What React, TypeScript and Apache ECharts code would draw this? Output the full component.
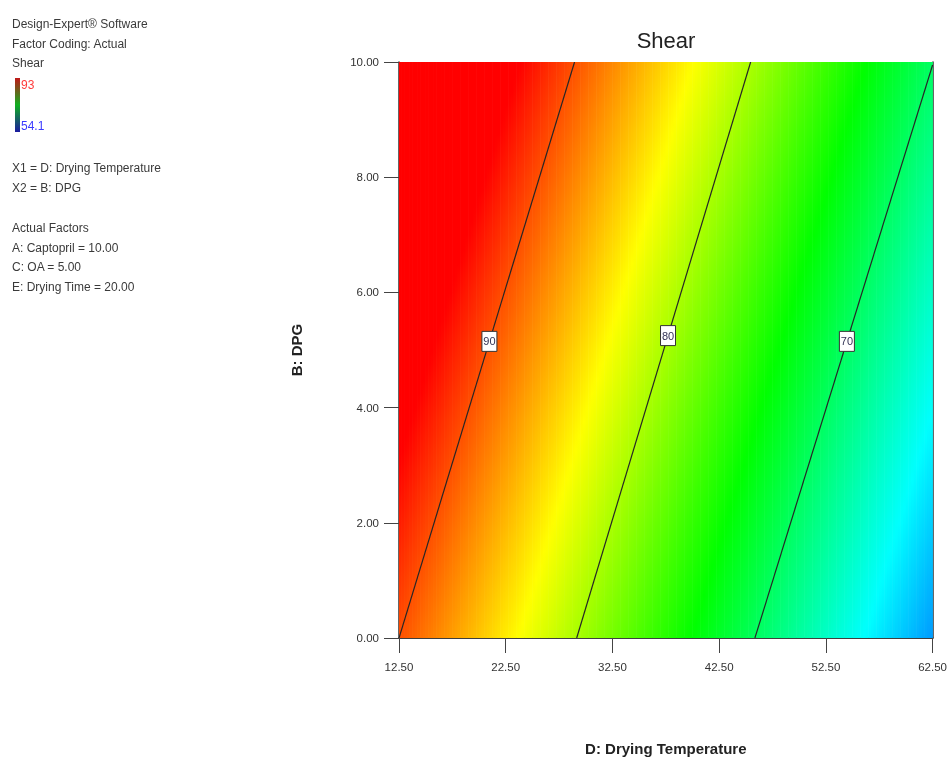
import React, { useEffect, useRef } from "react";
import * as echarts from "echarts";

// ---- data ----
const dRange = [12.5, 62.5]; // D: Drying Temperature
const bRange = [0, 10]; // B: DPG
const dTicks = [12.5, 22.5, 32.5, 42.5, 52.5, 62.5];
const bTicks = [0, 2, 4, 6, 8, 10];
const shearModel = [97.5, -0.6, 0.985];
const colorRange = [54.1, 93];
const colorStops = ["#0000ff", "#00ffff", "#00ff00", "#ffff00", "#ff0000"];
const legendBarStops = ["#1a1aa0", "#10b020", "#c01818"];
const contourLevels = [90, 80, 70];
const contourLines = [
  [[12.5, 0], [28.95, 10]],
  [[29.15, 0], [45.45, 10]],
  [[45.85, 0], [62.5, 9.95]],
];
const contourLabelB = [5.15, 5.25, 5.15];
const infoLines = ["Design-Expert® Software", "Factor Coding: Actual", "Shear"];
const factorLines = ["X1 = D: Drying Temperature", "X2 = B: DPG"];
const actualLines = [
  "Actual Factors",
  "A: Captopril = 10.00",
  "C: OA = 5.00",
  "E: Drying Time = 20.00",
];

const STEP_D = 0.25;
const N_B_STOPS = 40;

const NARROW = "'Liberation Sans Narrow', 'Arial Narrow', 'Liberation Sans', Arial, sans-serif";
const SANS = "'Liberation Sans', Arial, sans-serif";

function shear(d: number, b: number) {
  return shearModel[0] + shearModel[1] * d + shearModel[2] * b;
}

function colorOf(v: number) {
  let t = (v - colorRange[0]) / (colorRange[1] - colorRange[0]);
  t = Math.max(0, Math.min(1, t));
  return echarts.color.lerp(t, colorStops) as string;
}

function buildColumns() {
  const cols: number[][] = [];
  const nD = Math.round((dRange[1] - dRange[0]) / STEP_D);
  for (let i = 0; i < nD; i++) {
    const d = dRange[0] + (i + 0.5) * STEP_D;
    const bMid = (bRange[0] + bRange[1]) / 2;
    cols.push([d, bMid, shear(d, bMid)]);
  }
  return cols;
}

export default function App() {
  const ref = useRef<HTMLDivElement>(null);
  useEffect(() => {
    const chart = echarts.init(ref.current!, null, { renderer: "svg" });
    const columns = buildColumns();

    const textEl = (text: string, x: number, y: number, fill = "#3a3a3a", size = 12, font = NARROW) => ({
      type: "text",
      x,
      y,
      silent: true,
      style: { text, fill, fontSize: size, fontFamily: font, verticalAlign: "middle", align: "left" },
    });

    const graphic: any[] = [];
    infoLines.forEach((t, i) => graphic.push(textEl(t, 12, 24 + i * 19.5)));
    graphic.push({
      type: "rect",
      silent: true,
      shape: { x: 15, y: 78, width: 5, height: 54 },
      style: {
        fill: new echarts.graphic.LinearGradient(
          0,
          1,
          0,
          0,
          legendBarStops.map((c, i) => ({ offset: i / (legendBarStops.length - 1), color: c }))
        ),
      },
    });
    graphic.push(textEl(String(colorRange[1]), 21, 85, "#ff3a3a"));
    graphic.push(textEl(String(colorRange[0]), 21, 126, "#3a3aff"));
    factorLines.forEach((t, i) => graphic.push(textEl(t, 12, 168 + i * 20)));
    actualLines.forEach((t, i) => graphic.push(textEl(t, 12, 228 + i * 19.7)));
    graphic.push({
      type: "text",
      x: 666,
      y: 40,
      silent: true,
      style: { text: "Shear", fill: "#222", fontSize: 22, fontFamily: SANS, align: "center", verticalAlign: "middle" },
    });

    const axisCommon = {
      type: "value",
      axisLine: { show: true, lineStyle: { color: "#333", width: 1.5 } },
      splitLine: { show: false },
    };

    chart.setOption({
      animation: false,
      grid: { left: 399, right: 16, top: 62, bottom: 124 },
      graphic,
      xAxis: [
        {
          ...axisCommon,
          min: dRange[0],
          max: dRange[1],
          position: "bottom",
          name: "D: Drying Temperature",
          nameLocation: "middle",
          nameGap: 103,
          nameTextStyle: { fontSize: 15, fontWeight: "bold", color: "#222", fontFamily: SANS },
          axisTick: { show: true, length: 15, customValues: dTicks, lineStyle: { color: "#444" } },
          axisLabel: {
            customValues: dTicks,
            margin: 23,
            fontSize: 11.5,
            color: "#333",
            fontFamily: NARROW,
            formatter: (v: number) => v.toFixed(2),
          },
        },
        {
          ...axisCommon,
          min: dRange[0],
          max: dRange[1],
          position: "top",
          axisTick: { show: false },
          axisLabel: { show: false },
        },
      ],
      yAxis: [
        {
          ...axisCommon,
          min: bRange[0],
          max: bRange[1],
          interval: 2,
          position: "left",
          name: "B: DPG",
          nameLocation: "middle",
          nameGap: 95,
          nameTextStyle: { fontSize: 15, fontWeight: "bold", color: "#222", fontFamily: SANS },
          axisTick: { show: true, length: 15, customValues: bTicks, lineStyle: { color: "#444" } },
          axisLabel: {
            customValues: bTicks,
            margin: 20,
            fontSize: 11.5,
            color: "#333",
            fontFamily: NARROW,
            formatter: (v: number) => v.toFixed(2),
          },
        },
        {
          ...axisCommon,
          min: bRange[0],
          max: bRange[1],
          position: "right",
          axisTick: { show: false },
          axisLabel: { show: false },
        },
      ],
      series: [
        {
          type: "custom",
          xAxisIndex: 0,
          yAxisIndex: 0,
          clip: true,
          silent: true,
          data: columns,
          encode: { x: 0, y: 1 },
          renderItem: (params: any, api: any) => {
            const d = api.value(0);
            const tl = api.coord([d - STEP_D / 2, bRange[1]]);
            const br = api.coord([d + STEP_D / 2, bRange[0]]);
            const stops = [];
            for (let k = 0; k <= N_B_STOPS; k++) {
              const b = bRange[0] + ((bRange[1] - bRange[0]) * k) / N_B_STOPS;
              stops.push({ offset: k / N_B_STOPS, color: colorOf(shear(d, b)) });
            }
            return {
              type: "rect",
              shape: { x: tl[0] - 0.3, y: tl[1], width: br[0] - tl[0] + 0.6, height: br[1] - tl[1] },
              style: { fill: new echarts.graphic.LinearGradient(0, 1, 0, 0, stops) },
            };
          },
        },
        {
          type: "custom",
          xAxisIndex: 0,
          yAxisIndex: 0,
          clip: true,
          silent: true,
          z: 5,
          data: contourLevels.map((lvl, i) => [contourLines[i][0][0], contourLines[i][0][1], lvl]),
          encode: { x: 0, y: 1 },
          renderItem: (params: any, api: any) => {
            const i = params.dataIndex;
            const line = contourLines[i];
            const p0 = api.coord(line[0]);
            const p1 = api.coord(line[1]);
            const lb = contourLabelB[i];
            const t = (lb - line[0][1]) / (line[1][1] - line[0][1]);
            const ld = line[0][0] + t * (line[1][0] - line[0][0]);
            const lp = api.coord([ld, lb]);
            return {
              type: "group",
              children: [
                {
                  type: "line",
                  shape: { x1: p0[0], y1: p0[1], x2: p1[0], y2: p1[1] },
                  style: { stroke: "#262626", lineWidth: 1.2 },
                },
                {
                  type: "rect",
                  shape: { x: lp[0] - 7.5, y: lp[1] - 10, width: 15, height: 20 },
                  style: { fill: "#ffffff", stroke: "#333", lineWidth: 1 },
                },
                {
                  type: "text",
                  x: lp[0],
                  y: lp[1],
                  style: {
                    text: String(contourLevels[i]),
                    fill: "#333355",
                    fontSize: 11,
                    fontFamily: NARROW,
                    align: "center",
                    verticalAlign: "middle",
                  },
                },
              ],
            };
          },
        },
      ],
    });
    return () => chart.dispose();
  }, []);
  return <div ref={ref} style={{ position: "fixed", left: 0, top: 0, width: 950, height: 762 }} />;
}
